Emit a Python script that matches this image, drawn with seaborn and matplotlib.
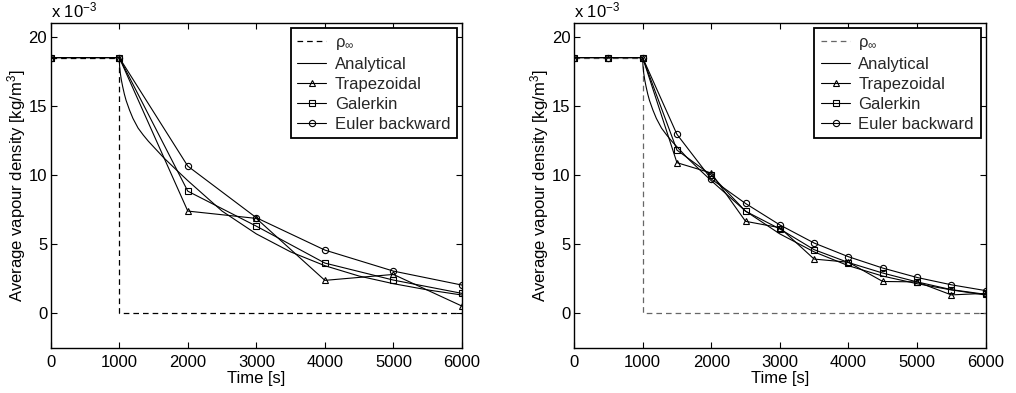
import matplotlib
matplotlib.use("Agg")
import matplotlib.pyplot as plt
import seaborn as sns

# ---------------- data (values in units of 1e-3 kg/m^3) ----------------
t_inf = [0, 1000, 1000, 6000]
rho_inf = [18.5, 18.5, 0.0, 0.0]

t_analytical = [0, 1000, 1005, 1015, 1030, 1050, 1075, 1100, 1150, 1200, 1275, 1350,
                1425, 1500, 1650, 1850, 2000, 2500, 3000, 3500, 4000, 4500, 5000, 5500, 6000]
rho_analytical = [18.5, 18.5, 17.9, 17.4, 16.9, 16.4, 15.85, 15.4, 14.7, 14.1, 13.4, 12.9,
                  12.45, 12.05, 11.25, 10.3, 9.6, 7.4, 5.75, 4.45, 3.45, 2.7, 2.15, 1.7, 1.33]

# left panel: time step 1000 s
t_left = [0, 1000, 2000, 3000, 4000, 5000, 6000]
trap_left = [18.5, 18.5, 7.4, 6.87, 2.39, 2.82, 0.53]
galerkin_left = [18.5, 18.5, 8.84, 6.31, 3.64, 2.41, 1.45]
euler_left = [18.5, 18.5, 10.65, 6.92, 4.58, 3.06, 2.05]

# right panel: time step 500 s
t_right = [0, 500, 1000, 1500, 2000, 2500, 3000, 3500, 4000, 4500, 5000, 5500, 6000]
trap_right = [18.5, 18.5, 18.5, 10.9, 10.15, 6.66, 6.2, 3.93, 3.7, 2.31, 2.28, 1.34, 1.45]
galerkin_right = [18.5, 18.5, 18.5, 11.81, 10.0, 7.39, 6.11, 4.61, 3.68, 2.92, 2.28, 1.72, 1.38]
euler_right = [18.5, 18.5, 18.5, 12.95, 9.72, 7.95, 6.4, 5.09, 4.1, 3.28, 2.6, 2.07, 1.65]

x_ticks = [0, 1000, 2000, 3000, 4000, 5000, 6000]
y_ticks = [0, 5, 10, 15, 20]
labels = ["ρ$_{\\infty}$", "Analytical", "Trapezoidal", "Galerkin", "Euler backward"]

# ---------------- style ----------------
sns.set_theme(style="ticks")
plt.rcParams["font.family"] = ["Liberation Sans", "DejaVu Sans"]
plt.rcParams["mathtext.fontset"] = "custom"
plt.rcParams["mathtext.rm"] = "Liberation Sans"
plt.rcParams["mathtext.it"] = "Liberation Sans:italic"
FS = 12
plt.rcParams["font.size"] = FS

fig = plt.figure(figsize=(10.16, 3.93), dpi=100)
ax_l = fig.add_axes([0.0499, 0.1145, 0.4048, 0.827])
ax_r = fig.add_axes([0.565, 0.1145, 0.4051, 0.827])

lw = 0.8


def draw(ax, t, trap, gal, eul, dash_color):
    sns.lineplot(x=t_inf, y=rho_inf, ax=ax, estimator=None, sort=False,
                 color=dash_color, lw=0.9, linestyle=(0, (4.5, 3.2)), label=labels[0])
    sns.lineplot(x=t_analytical, y=rho_analytical, ax=ax, estimator=None, sort=False,
                 color="black", lw=lw, label=labels[1])
    sns.lineplot(x=t, y=trap, ax=ax, estimator=None, sort=False, color="black", lw=lw,
                 marker="^", markersize=5, markerfacecolor="none", markeredgecolor="black",
                 markeredgewidth=0.8, label=labels[2])
    sns.lineplot(x=t, y=gal, ax=ax, estimator=None, sort=False, color="black", lw=lw,
                 marker="s", markersize=3.8, markerfacecolor="none", markeredgecolor="black",
                 markeredgewidth=0.8, label=labels[3])
    sns.lineplot(x=t, y=eul, ax=ax, estimator=None, sort=False, color="black", lw=lw,
                 marker="o", markersize=4.5, markerfacecolor="none", markeredgecolor="black",
                 markeredgewidth=0.8, label=labels[4])

    ax.set_xlim(0, 6000)
    ax.set_ylim(-2.5, 21)
    ax.set_xticks(x_ticks)
    ax.set_yticks(y_ticks)
    ax.set_xticklabels([str(v) for v in x_ticks])
    ax.set_yticklabels([str(v) for v in y_ticks])
    ax.tick_params(axis="both", direction="in", length=4, width=0.8, color="black",
                   top=True, right=True, labelsize=FS, labelcolor="black")
    ax.tick_params(axis="x", pad=5)
    ax.tick_params(axis="y", pad=2.5)
    for s in ax.spines.values():
        s.set_visible(True)
        s.set_linewidth(1.0)
        s.set_color("black")
    ax.set_xlabel("Time [s]", fontsize=FS, labelpad=0.5, color="black")
    ax.set_ylabel("Average vapour density [kg/m$^3$]", fontsize=FS, labelpad=0.5, color="black")
    ax.text(0.0, 1.008, "x 10$^{-3}$", transform=ax.transAxes, ha="left", va="bottom",
            fontsize=FS, color="black")
    leg = ax.legend(loc="upper right", borderaxespad=0.3, fancybox=False, frameon=True,
                    edgecolor="black", framealpha=1, handlelength=1.75, handletextpad=0.5,
                    labelspacing=0.3, borderpad=0.4, fontsize=FS, numpoints=1)
    leg.get_frame().set_linewidth(1.3)
    ax.set_facecolor("white")


draw(ax_l, t_left, trap_left, galerkin_left, euler_left, "black")
draw(ax_r, t_right, trap_right, galerkin_right, euler_right, "0.4")

fig.savefig("out.png", dpi=100, facecolor="white")
